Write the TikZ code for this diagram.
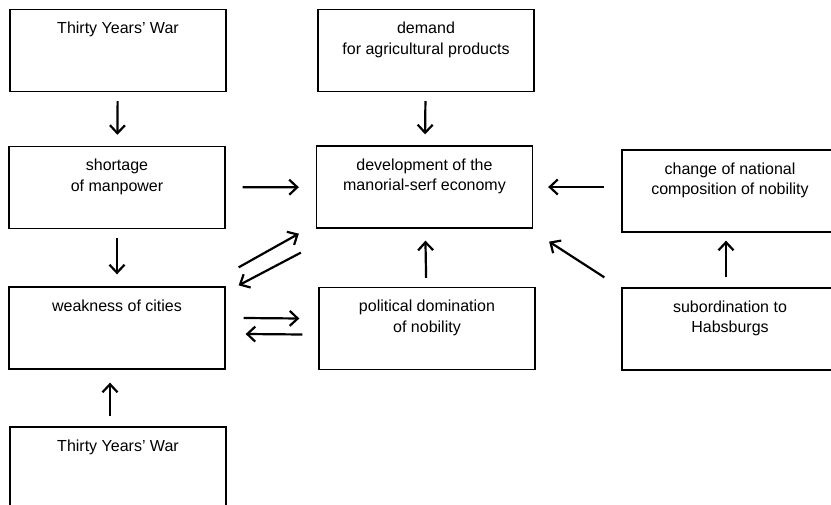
\documentclass[tikz,border=0pt]{standalone}
\usepackage{fontspec}
\setmainfont{Liberation Sans}
\usepackage{tikz}
\usetikzlibrary{arrows.meta}
\tikzstyle{factorBox} = [
  draw,
  line width=1.3pt,
  inner xsep=0pt,
  inner ysep=9.5pt,
  minimum width=216pt,
  minimum height=82pt,
  %text is set at the top of each box
  ]
\tikzstyle{influence} = [
  ->,
  line width=2.2pt,
  >={Straight Barb[length=8pt,width=15pt]},
  shorten <=9pt,
  shorten >=11pt]
\newcommand{\factor}[1]{\parbox[t][62pt][t]{216pt}{\centering\strut #1}}

\begin{document}
\begin{tikzpicture}[
  x=1pt, y=-1pt,
  font=\fontsize{16}{20.5}\selectfont]
  \useasboundingbox (0,0) rectangle (831,505);
  \clip (0,0) rectangle (831,505);
  \node[factorBox] (war1) at (118,50.5) {\factor{Thirty Years' War}};
  \node[factorBox] (demand) at (426,50.5) {\factor{demand \\ for agricultural products}};
  \node[factorBox] (manpower) at (117,187.5) {\factor{shortage \\ of manpower}};
  \node[factorBox] (economy) at (424.5,187) {\factor{development of the \\ manorial-serf economy}};
  \node[factorBox] (national) at (730,191) {\factor{change of national \\ composition of nobility}};
  \node[factorBox] (cities) at (117,328) {\factor{weakness of cities}};
  \node[factorBox] (nobility) at (427,328.5) {\factor{political domination \\ of nobility}};
  \node[factorBox] (habsburgs) at (730,329) {\factor{subordination to \\ Habsburgs}};
  \node[factorBox] (war2) at (118,468) {\factor{Thirty Years' War}};
  % into the economy
  \draw[influence] (war1) -- (manpower);
  \draw[influence] (demand) -- (economy);
  \draw[influence, shorten <=17pt, shorten >=17pt] (manpower) -- (economy);
  \draw[influence, shorten <=17pt, shorten >=15pt] (national.west |- economy) -- (economy);
  \draw[influence, shorten >=12pt] (nobility) -- (economy);
  \draw[influence, shorten <=0pt, shorten >=0pt]
    ([shift={(-17,-10)}]habsburgs.north west) -- ([shift={(16,13)}]economy.south east);
  % cities
  \draw[influence, shorten >=12pt] (manpower) -- (cities);
  \draw[influence, shorten <=0pt, shorten >=0pt]
    ([shift={(13,-19)}]cities.north east) -- ([shift={(-17,5)}]economy.south west);
  \draw[influence, shorten <=0pt, shorten >=0pt]
    ([shift={(-15,24)}]economy.south west) -- ([shift={(13,-1)}]cities.north east);
  \draw[influence, shorten <=0pt, shorten >=0pt]
    ([shift={(18,-10)}]cities.east) -- ([shift={(-19,-10)}]nobility.west);
  \draw[influence, shorten <=0pt, shorten >=0pt]
    ([shift={(-16,6)}]nobility.west) -- ([shift={(20,6)}]cities.east);
  \draw[influence, shorten <=10pt, shorten >=13pt]
    ([shift={(-8,0)}]war2.north) -- ([shift={(-7,0)}]cities.south);
  % nobility
  \draw[influence, shorten <=10pt, shorten >=8pt]
    ([shift={(-4,0)}]habsburgs.north) -- ([shift={(-4,0)}]national.south);
\end{tikzpicture}
\end{document}
